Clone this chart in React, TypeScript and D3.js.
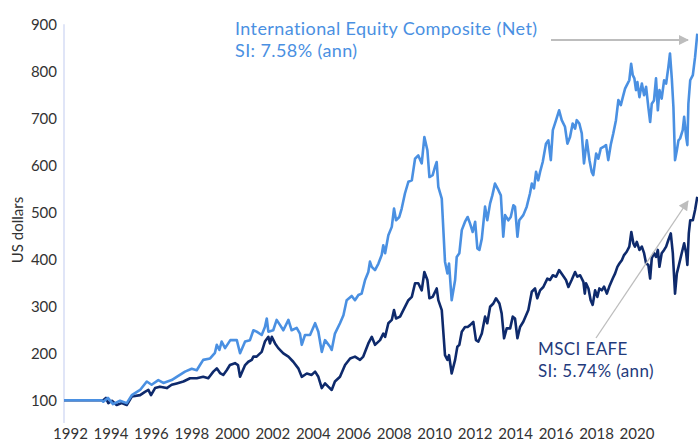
import { useEffect, useRef } from 'react';
import * as d3 from 'd3';

// International Equity Composite (Net): decimal year / value in US dollars
const compositeYears = [
  1991.68, 1993.54, 1993.62, 1993.85, 1994.1, 1994.45, 1994.78, 1995.03, 1995.44, 1995.77,
  1996.01, 1996.34, 1996.59, 1997.0, 1997.25, 1997.66, 1997.99, 1998.24, 1998.4, 1998.56,
  1998.9, 1999.14, 1999.23, 1999.36, 1999.47, 1999.64, 1999.9, 2000.22, 2000.38, 2000.63,
  2000.87, 2001.04, 2001.2, 2001.45, 2001.61, 2001.7, 2001.78, 2002.02, 2002.19, 2002.36,
  2002.52, 2002.77, 2002.93, 2003.18, 2003.34, 2003.43, 2003.59, 2003.84, 2004.09, 2004.25,
  2004.42, 2004.58, 2004.83, 2004.91, 2005.07, 2005.32, 2005.49, 2005.65, 2005.9, 2006.06,
  2006.23, 2006.39, 2006.56, 2006.72, 2006.8, 2006.89, 2007.05, 2007.22, 2007.38, 2007.46,
  2007.55, 2007.71, 2007.88, 2007.99, 2008.09, 2008.25, 2008.37, 2008.53, 2008.7, 2008.87,
  2009.03, 2009.19, 2009.36, 2009.49, 2009.64, 2009.74, 2009.9, 2010.02, 2010.1, 2010.18,
  2010.35, 2010.51, 2010.63, 2010.71, 2010.84, 2011.01, 2011.09, 2011.22, 2011.34, 2011.5,
  2011.63, 2011.75, 2011.88, 2012.0, 2012.11, 2012.21, 2012.33, 2012.49, 2012.6, 2012.74,
  2012.85, 2012.98, 2013.15, 2013.27, 2013.39, 2013.48, 2013.64, 2013.76, 2013.89, 2013.97,
  2014.09, 2014.18, 2014.38, 2014.55, 2014.71, 2014.8, 2014.91, 2015.01, 2015.12, 2015.21,
  2015.34, 2015.5, 2015.62, 2015.74, 2015.84, 2016.0, 2016.15, 2016.28, 2016.44, 2016.56,
  2016.69, 2016.82, 2016.94, 2017.02, 2017.15, 2017.27, 2017.38, 2017.52, 2017.65, 2017.76,
  2017.84, 2017.98, 2018.09, 2018.21, 2018.34, 2018.47, 2018.58, 2018.7, 2018.83, 2018.96,
  2019.08, 2019.2, 2019.3, 2019.41, 2019.49, 2019.62, 2019.71, 2019.79, 2019.87, 2019.95,
  2020.02, 2020.12, 2020.24, 2020.35, 2020.45, 2020.56, 2020.65, 2020.73, 2020.84, 2020.94,
  2021.03, 2021.11, 2021.22, 2021.34, 2021.44, 2021.55, 2021.63, 2021.72, 2021.8, 2021.88,
  2021.97, 2022.05, 2022.13, 2022.26, 2022.33, 2022.43, 2022.49, 2022.54, 2022.63, 2022.76,
  2022.87, 2022.98,
];
const compositeValues = [
  100, 100, 97, 105, 92, 99, 94, 111, 122, 140,
  133, 143, 137, 143, 150, 161, 167, 164, 175, 186,
  189, 201, 218, 207, 225, 211, 228, 228, 200, 225,
  228, 249, 246, 239, 256, 274, 246, 249, 271, 260,
  249, 271, 249, 254, 242, 218, 239, 239, 264, 246,
  203, 228, 214, 207, 242, 264, 281, 313, 322, 313,
  324, 327, 356, 373, 395, 384, 377, 391, 409, 430,
  413, 451, 469, 508, 483, 490, 508, 540, 565, 568,
  614, 621, 604, 660, 632, 575, 579, 597, 607, 554,
  529, 395, 370, 391, 313, 356, 405, 413, 462, 480,
  490, 476, 458, 480, 423, 420, 444, 512, 483, 519,
  536, 561, 547, 536, 448, 494, 483, 490, 515, 512,
  448, 483, 494, 512, 540, 561, 551, 586, 568, 586,
  607, 646, 653, 611, 675, 696, 717, 696, 682, 646,
  660, 689, 678, 696, 689, 668, 604, 653, 611, 586,
  579, 625, 614, 636, 639, 643, 611, 643, 668, 696,
  739, 728, 745, 763, 770, 781, 816, 792, 785, 760,
  777, 745, 774, 749, 767, 724, 692, 731, 738, 785,
  717, 760, 742, 781, 774, 809, 838, 785, 724, 611,
  632, 653, 657, 675, 703, 660, 643, 731, 781, 792,
  830, 880,
];

// MSCI EAFE
const eafeYears = [
  1991.68, 1993.54, 1993.62, 1993.75, 1993.87, 1994.05, 1994.28, 1994.53, 1994.78, 1995.03,
  1995.44, 1995.68, 1995.85, 1995.98, 1996.18, 1996.42, 1996.76, 1997.0, 1997.25, 1997.58,
  1997.91, 1998.24, 1998.56, 1998.81, 1999.06, 1999.23, 1999.39, 1999.55, 1999.72, 1999.88,
  2000.13, 2000.28, 2000.38, 2000.63, 2000.79, 2000.96, 2001.04, 2001.2, 2001.45, 2001.61,
  2001.78, 2001.86, 2001.95, 2002.11, 2002.27, 2002.52, 2002.77, 2003.01, 2003.26, 2003.43,
  2003.68, 2003.92, 2004.09, 2004.25, 2004.42, 2004.58, 2004.74, 2004.91, 2005.07, 2005.32,
  2005.57, 2005.82, 2006.06, 2006.31, 2006.47, 2006.72, 2006.89, 2007.05, 2007.3, 2007.46,
  2007.55, 2007.71, 2007.88, 2007.99, 2008.09, 2008.29, 2008.45, 2008.7, 2008.87, 2009.03,
  2009.19, 2009.36, 2009.49, 2009.64, 2009.74, 2009.9, 2010.1, 2010.18, 2010.35, 2010.51,
  2010.63, 2010.71, 2010.84, 2011.01, 2011.12, 2011.22, 2011.34, 2011.5, 2011.63, 2011.75,
  2011.91, 2012.04, 2012.16, 2012.33, 2012.49, 2012.6, 2012.74, 2012.9, 2013.03, 2013.2,
  2013.31, 2013.43, 2013.56, 2013.73, 2013.86, 2013.97, 2014.09, 2014.22, 2014.38, 2014.63,
  2014.8, 2014.96, 2015.07, 2015.21, 2015.37, 2015.57, 2015.7, 2015.84, 2016.0, 2016.15,
  2016.33, 2016.49, 2016.61, 2016.77, 2016.94, 2017.05, 2017.19, 2017.35, 2017.42, 2017.48,
  2017.6, 2017.71, 2017.81, 2017.93, 2018.04, 2018.14, 2018.26, 2018.37, 2018.51, 2018.63,
  2018.8, 2018.92, 2019.03, 2019.13, 2019.25, 2019.36, 2019.49, 2019.62, 2019.72, 2019.82,
  2019.9, 2019.99, 2020.12, 2020.24, 2020.35, 2020.45, 2020.56, 2020.65, 2020.73, 2020.84,
  2020.94, 2021.03, 2021.11, 2021.22, 2021.34, 2021.44, 2021.55, 2021.67, 2021.77, 2021.88,
  2021.97, 2022.05, 2022.21, 2022.33, 2022.43, 2022.49, 2022.56, 2022.63, 2022.76, 2022.87,
  2022.98,
];
const eafeValues = [
  100, 100, 100, 105, 94, 99, 90, 94, 90, 108,
  111, 118, 122, 111, 126, 129, 126, 133, 136, 140,
  147, 147, 150, 147, 161, 168, 158, 154, 164, 175,
  179, 175, 150, 175, 182, 186, 193, 193, 203, 225,
  235, 221, 235, 221, 211, 200, 193, 182, 168, 150,
  157, 154, 161, 150, 126, 136, 129, 122, 140, 150,
  175, 189, 193, 186, 193, 221, 235, 218, 228, 242,
  235, 264, 271, 292, 274, 278, 292, 313, 320, 349,
  349, 334, 373, 356, 317, 320, 338, 313, 292, 196,
  186, 196, 157, 186, 214, 218, 246, 256, 256, 260,
  267, 228, 225, 242, 278, 264, 299, 306, 317, 306,
  285, 232, 253, 253, 278, 274, 232, 256, 267, 292,
  331, 338, 317, 334, 341, 359, 356, 366, 363, 377,
  366, 356, 341, 356, 373, 363, 366, 352, 327, 349,
  338, 313, 303, 334, 320, 338, 334, 342, 327, 342,
  359, 370, 384, 391, 398, 409, 416, 427, 458, 434,
  427, 437, 420, 427, 413, 391, 388, 359, 402, 413,
  405, 420, 384, 413, 420, 427, 441, 455, 413, 327,
  370, 384, 413, 434, 413, 388, 455, 483, 483, 505,
  533,
];

const yTicks = [100, 200, 300, 400, 500, 600, 700, 800, 900];
const xTicks = [1992, 1994, 1996, 1998, 2000, 2002, 2004, 2006, 2008, 2010, 2012, 2014, 2016, 2018, 2020];

const compositeLabel = ['International Equity Composite (Net)', 'SI: 7.58% (ann)'];
const eafeLabel = ['MSCI EAFE', 'SI: 5.74% (ann)'];

export default function App() {
  const svgRef = useRef<SVGSVGElement>(null);

  useEffect(() => {
    if (!svgRef.current) return;
    const svg = d3.select(svgRef.current);
    svg.selectAll('*').remove();

    const width = 698;
    const height = 441;
    const font = 'Lato, "Noto Sans", sans-serif';
    const lightBlue = '#4a90e2';
    const navy = '#0e2a6c';

    const x = d3.scaleLinear().domain([1992, 2020]).range([70.5, 637]);
    const y = d3.scaleLinear().domain([100, 900]).range([400.3, 24.3]);

    svg.attr('width', width).attr('height', height);

    // arrow marker
    const defs = svg.append('defs');
    defs.append('marker')
      .attr('id', 'arrowHead')
      .attr('viewBox', '0 0 10 10')
      .attr('refX', 9)
      .attr('refY', 5)
      .attr('markerUnits', 'userSpaceOnUse')
      .attr('markerWidth', 11)
      .attr('markerHeight', 10)
      .attr('orient', 'auto')
      .append('path')
      .attr('d', 'M0,0 L10,5 L0,10 Z')
      .attr('fill', '#bdbdbd');

    // y axis line
    svg.append('line')
      .attr('x1', 64).attr('x2', 64)
      .attr('y1', y(900)).attr('y2', 423)
      .attr('stroke', '#d6ddf4')
      .attr('stroke-width', 1.5);

    // y tick labels
    svg.append('g')
      .selectAll('text')
      .data(yTicks)
      .join('text')
      .attr('x', 57)
      .attr('y', d => y(d))
      .attr('dy', '0.36em')
      .attr('text-anchor', 'end')
      .style('font-family', font)
      .style('font-size', '15px')
      .style('fill', '#333')
      .text(d => d);

    // x tick labels
    svg.append('g')
      .selectAll('text')
      .data(xTicks)
      .join('text')
      .attr('x', d => x(d))
      .attr('y', 439)
      .attr('text-anchor', 'middle')
      .style('font-family', font)
      .style('font-size', '15px')
      .style('fill', '#333')
      .text(d => d);

    // y axis title
    svg.append('text')
      .attr('transform', 'translate(23,230) rotate(-90)')
      .attr('text-anchor', 'middle')
      .style('font-family', font)
      .style('font-size', '15px')
      .style('fill', '#333')
      .text('US dollars');

    const line = d3.line<[number, number]>()
      .x(d => x(d[0]))
      .y(d => y(d[1]));

    const eafe = eafeYears.map((yr, i) => [yr, eafeValues[i]] as [number, number]);
    const composite = compositeYears.map((yr, i) => [yr, compositeValues[i]] as [number, number]);

    svg.append('path')
      .datum(eafe)
      .attr('fill', 'none')
      .attr('stroke', navy)
      .attr('stroke-width', 2.6)
      .attr('stroke-linejoin', 'round')
      .attr('d', line);

    svg.append('path')
      .datum(composite)
      .attr('fill', 'none')
      .attr('stroke', lightBlue)
      .attr('stroke-width', 2.6)
      .attr('stroke-linejoin', 'round')
      .attr('d', line);

    // annotations
    const compText = svg.append('text')
      .attr('x', 235)
      .attr('y', 35)
      .style('font-family', font)
      .style('font-size', '18px')
      .style('letter-spacing', '0.4px')
      .style('fill', lightBlue);
    compositeLabel.forEach((t, i) => {
      compText.append('tspan').attr('x', 235).attr('dy', i === 0 ? 0 : 21.5).text(t);
    });

    const eafeText = svg.append('text')
      .attr('x', 538)
      .attr('y', 355)
      .style('font-family', font)
      .style('font-size', '17px')
      .style('letter-spacing', '0.4px')
      .style('fill', '#1f3b7c');
    eafeLabel.forEach((t, i) => {
      eafeText.append('tspan').attr('x', 538).attr('dy', i === 0 ? 0 : 22).text(t);
    });

    svg.append('line')
      .attr('x1', 551).attr('y1', 40)
      .attr('x2', 688).attr('y2', 40)
      .attr('stroke', '#bdbdbd')
      .attr('stroke-width', 2)
      .attr('marker-end', 'url(#arrowHead)');

    svg.append('line')
      .attr('x1', 596).attr('y1', 338)
      .attr('x2', 688).attr('y2', 201)
      .attr('stroke', '#bdbdbd')
      .attr('stroke-width', 1.3)
      .attr('marker-end', 'url(#arrowHead)');
  }, []);

  return (
    <svg
      ref={svgRef}
      width={698}
      height={441}
      style={{ position: 'absolute', left: 0, top: 0, background: '#fff' }}
    />
  );
}
